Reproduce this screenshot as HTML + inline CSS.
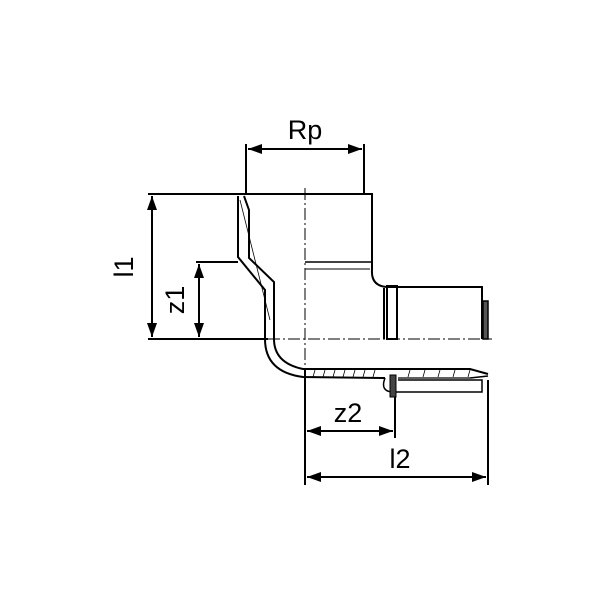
<!DOCTYPE html>
<html><head><style>html,body{margin:0;padding:0;background:#fff}svg{display:block}</style></head>
<body>
<svg width="600" height="600" viewBox="0 0 600 600" xmlns="http://www.w3.org/2000/svg">
<defs>
<marker id="b" viewBox="0 0 14 10" refX="14" refY="5" markerWidth="14" markerHeight="10" markerUnits="userSpaceOnUse" orient="auto-start-reverse">
<path d="M0,0 L14,5 L0,10 z" fill="#000"/></marker>
</defs>
<g stroke="#000" fill="none" stroke-width="2">
<line x1="148" y1="194" x2="247" y2="194"/>
<line x1="196" y1="262" x2="238" y2="262"/>
<line x1="148" y1="339" x2="268" y2="339"/>
<line x1="246" y1="144" x2="246" y2="194"/>
<line x1="364" y1="144" x2="364" y2="194"/>
<line x1="305" y1="370" x2="305" y2="485"/>
<line x1="395" y1="392" x2="395" y2="438"/>
<line x1="488" y1="380" x2="488" y2="485"/>
<line x1="152" y1="196" x2="152" y2="337" marker-start="url(#b)" marker-end="url(#b)"/>
<line x1="199" y1="264" x2="199" y2="337" marker-start="url(#b)" marker-end="url(#b)"/>
<line x1="248" y1="149" x2="362" y2="149" marker-start="url(#b)" marker-end="url(#b)"/>
<line x1="307" y1="431" x2="393" y2="431" marker-start="url(#b)" marker-end="url(#b)"/>
<line x1="307" y1="477" x2="486" y2="477" marker-start="url(#b)" marker-end="url(#b)"/>
<path d="M246,194 L372,194 L372,270 Q371,286 387,287 L482,287 L482,339"/>
<line x1="305" y1="262" x2="372" y2="262" stroke-width="1.5"/>
<line x1="305" y1="269" x2="370" y2="269" stroke-width="1"/>
<rect x="387" y="286" width="10" height="53"/>
<line x1="384" y1="288" x2="384" y2="339"/>
<rect x="483" y="301" width="5" height="38" fill="#555" stroke-width="1.5"/>
<path d="M238,196 L238,257 L265,290 L265,339 Q265,372 303,377 L385,378"/>
<path d="M244,196 L249,210 L249,258 L274,282 L274,339 Q274,363 303,369 L470,369 L488,374"/>
<path d="M240,200 L270,320" stroke-width="0.8"/>
<path d="M385,378 Q380,391 392,392 L482,392 L482,380 L398,380" stroke-width="1.5"/>
<path d="M470,378 L488,376" stroke-width="1.5"/>
<rect x="390" y="375" width="6" height="22" fill="#444" stroke-width="1"/>
<path d="M305,377 L385,378 M398,378 L470,378" stroke-width="1.2"/>
<g stroke-width="0.8">
<path d="M315,370 L313,377 M325,370 L323,377 M335,370 L333,377 M345,370 L343,377 M355,370 L353,377 M365,370 L363,377 M375,370 L373,377 M410,370 L408,377 M425,370 L423,377 M440,370 L438,377 M455,370 L453,377 M470,370 L468,377"/>
</g>
<line x1="268" y1="339" x2="492" y2="339" stroke-width="1" stroke-dasharray="12,3,2,3"/>
<line x1="305" y1="188" x2="305" y2="372" stroke-width="1" stroke-dasharray="12,3,2,3"/>
</g>
<g font-family="Liberation Sans, sans-serif" font-size="27" fill="#000">
<text x="305" y="139" text-anchor="middle">Rp</text>
<text x="348" y="422" text-anchor="middle">z2</text>
<text x="400" y="468" text-anchor="middle">l2</text>
<text transform="translate(133,267) rotate(-90)" text-anchor="middle">l1</text>
<text transform="translate(184,300) rotate(-90)" text-anchor="middle">z1</text>
</g>
</svg>
</body></html>
